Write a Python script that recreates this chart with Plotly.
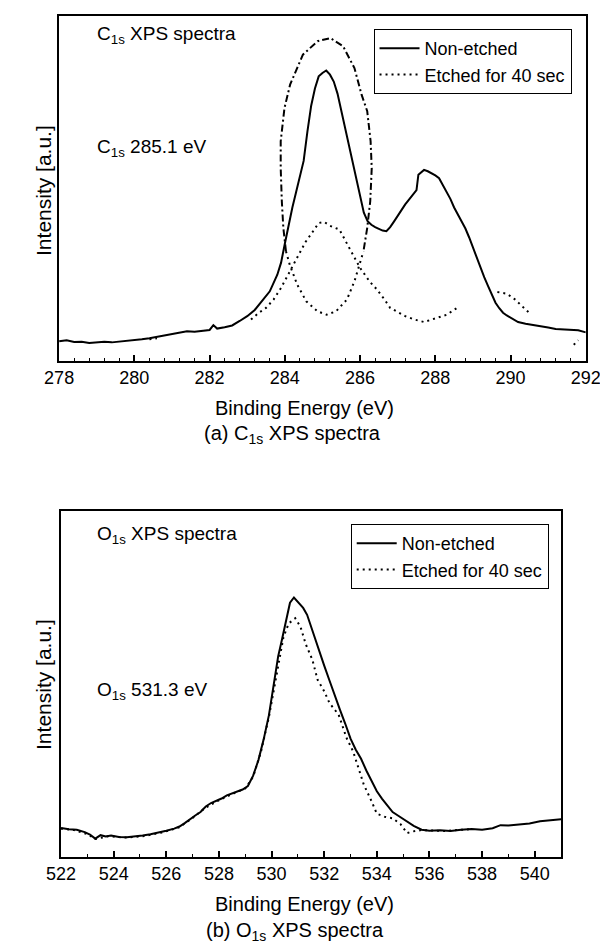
import plotly.graph_objects as go

W, H = 608, 950

# ---------------- (a) C1s data ----------------
c1s_energy = [278.0, 278.2, 278.4, 278.6, 278.8, 279.0, 279.2, 279.4, 279.6, 279.8,
              280.0, 280.2, 280.4, 280.6, 280.8, 281.0, 281.2, 281.4, 281.6, 281.8,
              282.0, 282.1, 282.2, 282.4, 282.6, 282.8, 283.0, 283.2, 283.4, 283.6,
              283.8, 283.9, 284.0, 284.1, 284.2, 284.3, 284.4, 284.5, 284.6, 284.7,
              284.8, 284.9, 285.0, 285.1, 285.2, 285.3, 285.4, 285.5, 285.6, 285.7,
              285.8, 285.9, 286.0, 286.1, 286.2, 286.3, 286.4, 286.5, 286.6, 286.7,
              286.8, 286.9, 287.0, 287.1, 287.2, 287.3, 287.4, 287.5, 287.55, 287.6,
              287.7, 287.8, 287.9, 288.0, 288.1, 288.2, 288.3, 288.4, 288.5, 288.6,
              288.7, 288.8, 288.9, 289.0, 289.1, 289.2, 289.3, 289.4, 289.5, 289.6,
              289.7, 289.8, 289.9, 290.0, 290.2, 290.4, 290.6, 290.8, 291.0, 291.2,
              291.4, 291.6, 291.8, 292.0]
c1s_nonetched = [5.7, 6.0, 5.5, 5.6, 5.2, 5.3, 5.6, 5.4, 5.6, 5.8,
                 5.9, 6.3, 6.6, 7.0, 7.6, 7.9, 8.2, 8.6, 8.5, 8.7,
                 9.0, 10.4, 9.4, 9.8, 10.3, 11.6, 13.0, 14.8, 17.5, 20.2,
                 25.0, 28.5, 34.0, 39.5, 44.5, 49.0, 53.5, 58.0, 66.5, 74.0,
                 79.0, 82.5, 83.5, 84.2, 83.0, 81.0, 77.5, 72.5, 67.5, 63.0,
                 58.0, 53.0, 48.0, 43.0, 40.5, 39.5, 38.8, 38.3, 37.8, 37.6,
                 38.8, 40.4, 42.2, 44.0, 45.4, 46.8, 48.0, 49.5, 54.0, 54.5,
                 55.4, 55.0, 54.5, 53.8, 53.0, 51.0, 49.2, 47.0, 44.5, 42.5,
                 40.5, 38.4, 35.8, 32.8, 29.9, 27.0, 24.3, 21.8, 19.3, 16.9,
                 15.3, 14.0, 13.2, 12.5, 11.3, 10.8, 10.5, 10.0, 9.7, 9.3,
                 9.2, 8.9, 8.9, 8.3]

# Etched spectrum (dotted, several visible segments; None = gap)
c1s_etched_energy = [280.4, 280.6, None,
                     283.1, 283.3, 283.5, 283.7, 283.9, 284.05, 284.2, 284.35, 284.55,
                     284.75, 284.9, 285.05, 285.2, 285.45, 285.65, 285.85, 286.0, 286.25,
                     286.45, 286.65, 286.8, 287.2, 287.45, 287.7, 288.0, 288.3, 288.65, None,
                     289.65, 289.9, 290.1, 290.35, 290.55, None,
                     291.68, 291.8, None,
                     284.03, 284.13, 284.33, 284.57, 284.87, 285.11, 285.36, 285.65,
                     285.85, 285.99, 286.09]
c1s_etched = [6.3, 6.6, None,
              12.0, 13.9, 15.4, 17.8, 21.2, 24.3, 27.5, 30.5, 34.5,
              37.6, 40.0, 40.3, 39.2, 38.1, 34.0, 29.9, 27.0, 23.1,
              20.7, 17.8, 15.4, 13.0, 12.0, 11.3, 12.3, 13.4, 15.9, None,
              20.0, 19.5, 18.0, 15.4, 13.4, None,
              4.7, 6.0, None,
              31.8, 27.9, 22.1, 17.3, 14.4, 13.4, 14.4, 17.8,
              23.1, 27.9, 31.8]

# Tall dash-dot peak envelope
c1s_env_energy = [284.03, 283.96, 283.92, 283.89, 283.89, 283.99, 284.14, 284.48, 284.87,
                  285.21, 285.55, 285.85, 286.04, 286.19, 286.28, 286.31, 286.27, 286.19,
                  286.09]
c1s_env = [31.8, 38.6, 46.3, 55.9, 63.7, 73.3, 80.1, 88.8, 92.7,
           93.6, 91.2, 84.9, 77.2, 72.4, 63.7, 55.9, 46.3, 38.6,
           31.8]

# ---------------- (b) O1s data ----------------
o1s_energy = [522.0, 522.3, 522.6, 522.9, 523.1, 523.3, 523.5, 523.7, 523.9, 524.2,
              524.5, 524.8, 525.1, 525.4, 525.7, 526.0, 526.3, 526.5, 526.7, 526.9,
              527.1, 527.3, 527.5, 527.7, 527.9, 528.1, 528.3, 528.5, 528.7, 528.9,
              529.1, 529.3, 529.5, 529.7, 529.9, 530.1, 530.25, 530.4, 530.55, 530.7,
              530.85, 531.0, 531.2, 531.35, 531.5, 531.65, 531.8, 532.0, 532.2, 532.4,
              532.6, 532.8, 533.0, 533.2, 533.4, 533.6, 533.8, 534.0, 534.2, 534.4,
              534.6, 534.8, 535.0, 535.2, 535.4, 535.7, 536.0, 536.4, 536.8, 537.2,
              537.6, 538.0, 538.4, 538.7, 539.0, 539.4, 539.8, 540.2, 540.6, 541.0]
o1s_nonetched = [8.4, 8.0, 7.9, 7.2, 6.5, 5.3, 6.3, 5.9, 6.2, 5.8,
                 5.7, 5.9, 6.2, 6.6, 7.0, 7.6, 8.2, 8.8, 9.8, 11.0,
                 12.0, 13.0, 14.6, 15.6, 16.2, 16.9, 17.8, 18.4, 19.0, 19.5,
                 20.5, 23.5, 28.0, 34.0, 41.0, 50.0, 58.0, 63.0, 68.5, 73.5,
                 75.0, 73.8, 72.0, 70.0, 66.5, 63.0, 59.5, 55.3, 51.0, 46.5,
                 42.5, 38.5, 34.2, 31.0, 28.4, 25.0, 21.8, 19.0, 16.8, 14.8,
                 13.0, 12.0, 11.0, 10.0, 9.0, 7.9, 7.6, 7.7, 7.5, 7.9,
                 8.1, 7.9, 8.3, 9.2, 9.1, 9.4, 9.7, 10.3, 10.5, 10.9]

o1s_etched_energy = [522.0, 522.5, 523.0, 523.3, 523.8, 524.5, 525.2, 525.9, 526.5, 527.0,
                     527.5, 528.0, 528.5, 529.0, 529.3, 529.6, 529.9, 530.2, 530.45, 530.65,
                     530.9, 531.1, 531.3, 531.55, 531.75, 532.0, 532.2, 532.55, 532.85, 533.1,
                     533.25, 533.5, 533.8, 534.0, 534.3, 534.6, 534.9, 535.15, 535.3, 535.7,
                     536.5, 537.5]
o1s_etched = [8.2, 7.8, 6.6, 5.2, 6.0, 5.6, 6.1, 7.2, 8.6, 11.3,
              14.3, 16.4, 18.2, 19.8, 23.2, 30.5, 40.5, 53.0, 63.5, 67.5,
              69.0, 66.5, 61.5, 57.0, 51.2, 47.9, 44.5, 41.1, 34.4, 30.5,
              26.7, 21.0, 16.1, 12.5, 11.6, 11.2, 9.5, 6.9, 7.3, 7.8,
              7.5, 8.0]

c1s_ticks = [278, 280, 282, 284, 286, 288, 290, 292]
o1s_ticks = [522, 524, 526, 528, 530, 532, 534, 536, 538, 540]

FONT = "Liberation Sans, Arial, Helvetica, sans-serif"
DOT = "2px,4px"
DASHDOT = "7px,3px,2px,3px"


def px(x):
    return x / W


def py(y):
    return 1 - y / H


fig = go.Figure()

fig.add_trace(go.Scatter(x=c1s_energy, y=c1s_nonetched, mode="lines", name="Non-etched",
                         line=dict(color="black", width=2), xaxis="x", yaxis="y",
                         legend="legend"))
fig.add_trace(go.Scatter(x=c1s_etched_energy, y=c1s_etched, mode="lines",
                         name="Etched for 40 sec", connectgaps=False,
                         line=dict(color="black", width=2, dash=DOT), xaxis="x", yaxis="y",
                         legend="legend"))
fig.add_trace(go.Scatter(x=c1s_env_energy, y=c1s_env, mode="lines", name="envelope",
                         showlegend=False,
                         line=dict(color="black", width=2, dash=DASHDOT), xaxis="x", yaxis="y"))

fig.add_trace(go.Scatter(x=o1s_energy, y=o1s_nonetched, mode="lines", name="Non-etched",
                         line=dict(color="black", width=2), xaxis="x2", yaxis="y2",
                         legend="legend2"))
fig.add_trace(go.Scatter(x=o1s_etched_energy, y=o1s_etched, mode="lines",
                         name="Etched for 40 sec",
                         line=dict(color="black", width=2, dash=DOT), xaxis="x2", yaxis="y2",
                         legend="legend2"))

axis_common = dict(showline=True, linecolor="black", linewidth=1.5, mirror=True,
                   showgrid=False, zeroline=False)

fig.update_layout(
    width=W, height=H, autosize=False,
    margin=dict(l=0, r=0, t=0, b=0),
    paper_bgcolor="white", plot_bgcolor="white",
    font=dict(family=FONT, color="black", size=17),
    xaxis=dict(domain=[px(38), px(592)], range=[278, 292], tickvals=c1s_ticks,
               ticks="inside", ticklen=6, tickwidth=1.5, tickcolor="black",
               tickfont=dict(size=18),
               minor=dict(dtick=0.4, ticks="inside", ticklen=3, tickwidth=1, tickcolor="black"),
               anchor="y", **axis_common),
    yaxis=dict(domain=[py(353), py(8)], range=[0, 100], showticklabels=False, ticks="",
               anchor="x", **axis_common),
    xaxis2=dict(domain=[px(40), px(566)], range=[522, 541], tickvals=o1s_ticks,
                ticks="inside", ticklen=6, tickwidth=1.5, tickcolor="black",
                tickfont=dict(size=18),
                minor=dict(dtick=1, ticks="inside", ticklen=3, tickwidth=1, tickcolor="black"),
                anchor="y2", **axis_common),
    yaxis2=dict(domain=[py(849), py(503)], range=[0, 100], showticklabels=False, ticks="",
                anchor="x2", **axis_common),
    legend=dict(x=px(577), y=py(21), xanchor="right", yanchor="top",
                bordercolor="black", borderwidth=1, bgcolor="white",
                font=dict(size=18), tracegroupgap=0, itemwidth=40),
    legend2=dict(x=px(553), y=py(516), xanchor="right", yanchor="top",
                 bordercolor="black", borderwidth=1, bgcolor="white",
                 font=dict(size=18), tracegroupgap=0, itemwidth=40),
)

annotations = [
    dict(x=px(76), y=py(27), text="C<sub>1s</sub> XPS spectra", xanchor="left", yanchor="middle",
         font=dict(size=19)),
    dict(x=px(76), y=py(140), text="C<sub>1s</sub> 285.1 eV", xanchor="left", yanchor="middle",
         font=dict(size=19)),
    dict(x=px(296), y=py(400), text="Binding Energy (eV)", xanchor="center", yanchor="middle",
         font=dict(size=20)),
    dict(x=px(283), y=py(426), text="(a) C<sub>1s</sub> XPS spectra", xanchor="center",
         yanchor="middle", font=dict(size=20)),
    dict(x=px(21), y=py(182), text="Intensity [a.u.]", textangle=-90, xanchor="center",
         yanchor="middle", font=dict(size=21)),
    dict(x=px(76), y=py(527), text="O<sub>1s</sub> XPS spectra", xanchor="left", yanchor="middle",
         font=dict(size=19)),
    dict(x=px(76), y=py(683), text="O<sub>1s</sub> 531.3 eV", xanchor="left", yanchor="middle",
         font=dict(size=19)),
    dict(x=px(296), y=py(896), text="Binding Energy (eV)", xanchor="center", yanchor="middle",
         font=dict(size=20)),
    dict(x=px(286), y=py(923), text="(b) O<sub>1s</sub> XPS spectra", xanchor="center",
         yanchor="middle", font=dict(size=20)),
    dict(x=px(21), y=py(676), text="Intensity [a.u.]", textangle=-90, xanchor="center",
         yanchor="middle", font=dict(size=21)),
]
for a in annotations:
    a.update(xref="paper", yref="paper", showarrow=False)
fig.update_layout(annotations=annotations)

fig.write_html("out.html")
